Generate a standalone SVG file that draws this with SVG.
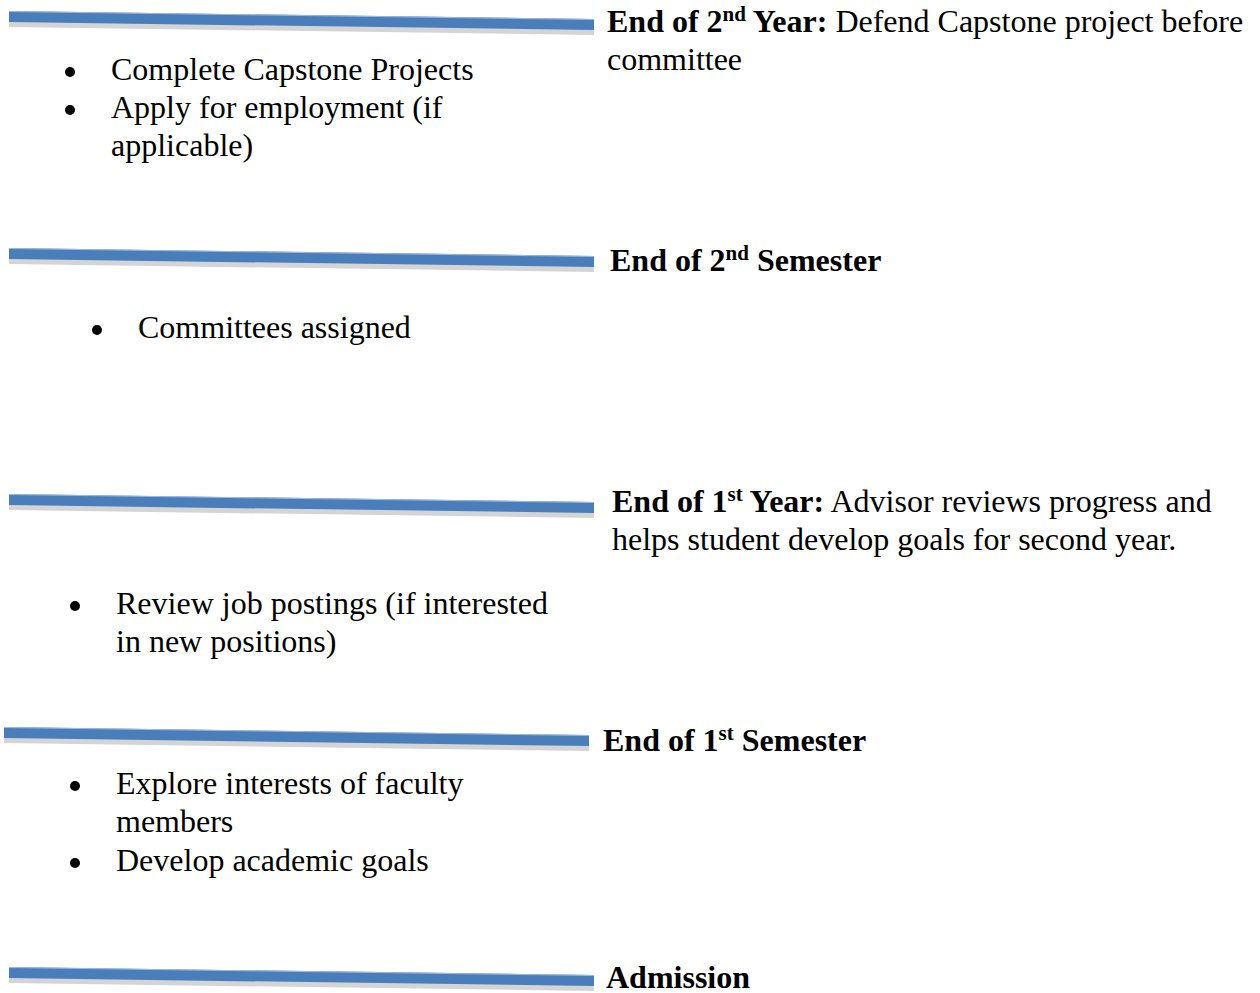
<svg xmlns="http://www.w3.org/2000/svg" width="1260" height="993" viewBox="0 0 1260 993">
  <style>
    text { font-family: "Liberation Serif", "Times New Roman", serif; font-size: 32px; fill: #000; }
    .b { font-weight: bold; }
    .bar { fill: #4a7ebb; }
    .shade { fill: #d4d4d4; }
    .hl { fill: none; stroke: #9dbbe0; stroke-width: 1; }
    .dot { fill: #000; }
  </style>
  <defs>
    <!-- one slanted timeline bar, drawn from its own origin -->
    <g id="timeline-bar">
      <polygon class="shade" points="0,10 585,18 585,24 0,16"/>
      <polygon class="bar" points="0,0 585,8 585,19 0,11"/>
      <line class="hl" x1="0" y1="0.5" x2="585" y2="8.5"/>
    </g>
  </defs>

  <rect width="1260" height="993" fill="#fff"/>

  <!-- milestone: end of second year -->
  <g id="m-end-year2">
    <use href="#timeline-bar" x="9" y="11"/>
    <text x="607" y="32"><tspan class="b">End of 2<tspan font-size="21" dy="-11">nd</tspan><tspan dy="11"> Year:</tspan></tspan> Defend Capstone project before</text>
    <text x="607" y="70">committee</text>
  </g>
  <g id="tasks-year2">
    <circle class="dot" cx="70" cy="72" r="5"/>
    <text x="111" y="80">Complete Capstone Projects</text>
    <circle class="dot" cx="70" cy="110" r="5"/>
    <text x="111" y="118">Apply for employment (if</text>
    <text x="111" y="156">applicable)</text>
  </g>

  <!-- milestone: end of second semester -->
  <g id="m-end-sem2">
    <use href="#timeline-bar" x="9" y="248"/>
    <text class="b" x="610" y="271">End of 2<tspan font-size="21" dy="-11">nd</tspan><tspan dy="11"> Semester</tspan></text>
  </g>
  <g id="tasks-sem2">
    <circle class="dot" cx="97" cy="330" r="5"/>
    <text x="138" y="338">Committees assigned</text>
  </g>

  <!-- milestone: end of first year -->
  <g id="m-end-year1">
    <use href="#timeline-bar" x="9" y="494"/>
    <text x="612" y="512"><tspan class="b">End of 1<tspan font-size="21" dy="-11">st</tspan><tspan dy="11"> Year:</tspan></tspan> Advisor reviews progress and</text>
    <text x="612" y="550">helps student develop goals for second year.</text>
  </g>
  <g id="tasks-year1">
    <circle class="dot" cx="75" cy="606" r="5"/>
    <text x="116" y="614">Review job postings (if interested</text>
    <text x="116" y="652">in new positions)</text>
  </g>

  <!-- milestone: end of first semester -->
  <g id="m-end-sem1">
    <use href="#timeline-bar" x="4" y="727"/>
    <text class="b" x="603" y="751">End of 1<tspan font-size="21" dy="-11">st</tspan><tspan dy="11"> Semester</tspan></text>
  </g>
  <g id="tasks-sem1">
    <circle class="dot" cx="75" cy="786" r="5"/>
    <text x="116" y="794">Explore interests of faculty</text>
    <text x="116" y="832">members</text>
    <circle class="dot" cx="75" cy="863" r="5"/>
    <text x="116" y="871">Develop academic goals</text>
  </g>

  <!-- milestone: admission -->
  <g id="m-admission">
    <use href="#timeline-bar" x="9" y="967"/>
    <text class="b" x="606" y="988">Admission</text>
  </g>

  <!-- no connectors: the timeline bars stand alone -->
  <g id="connectors"/>
</svg>
